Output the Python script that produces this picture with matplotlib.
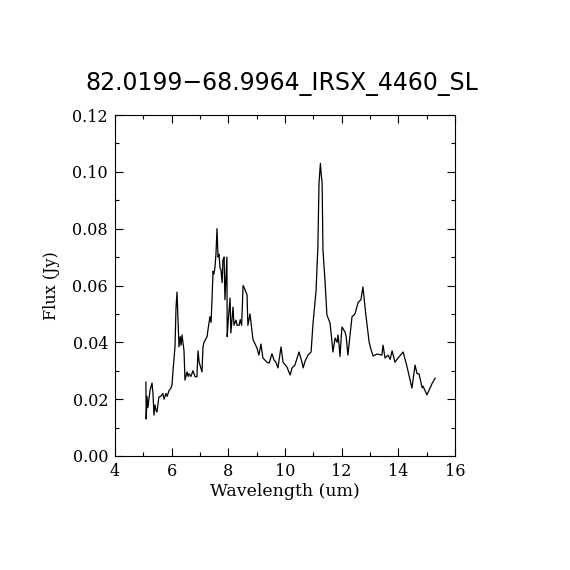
import matplotlib
matplotlib.use("Agg")
import matplotlib.pyplot as plt
from matplotlib.ticker import MultipleLocator, FormatStrFormatter

title = "82.0199\u221268.9964_IRSX_4460_SL"
xlabel = "Wavelength (um)"
ylabel = "Flux (Jy)"

wavelength = [5.09, 5.10, 5.13, 5.16, 5.235, 5.306, 5.34, 5.377, 5.41, 5.45, 5.48,
              5.55, 5.62, 5.69, 5.73, 5.80, 5.84, 5.906, 5.98, 6.012, 6.047, 6.118,
              6.153, 6.188, 6.224, 6.259, 6.30, 6.33, 6.365, 6.436, 6.47, 6.54, 6.58,
              6.61, 6.68, 6.75, 6.82, 6.89, 6.93, 6.97, 7.07, 7.106, 7.14, 7.25, 7.28,
              7.35, 7.39, 7.42, 7.46, 7.49, 7.53, 7.565, 7.60, 7.636, 7.67, 7.71, 7.74,
              7.78, 7.81, 7.85, 7.88, 7.95, 7.96, 8.00, 8.06, 8.09, 8.165, 8.20, 8.27,
              8.31, 8.38, 8.42, 8.47, 8.52, 8.57, 8.66, 8.69, 8.765, 8.87, 9.01, 9.08,
              9.15, 9.22, 9.365, 9.44, 9.54, 9.61, 9.68, 9.75, 9.86, 9.93, 10.07, 10.18,
              10.25, 10.35, 10.495, 10.60, 10.64, 10.71, 10.81, 10.92, 10.99, 11.095,
              11.16, 11.20, 11.25, 11.28, 11.31, 11.34, 11.41, 11.48, 11.59, 11.66,
              11.69, 11.77, 11.84, 11.87, 11.91, 11.94, 12.01, 12.12, 12.16, 12.22,
              12.365, 12.47, 12.58, 12.68, 12.75, 12.85, 12.97, 13.04, 13.11, 13.25,
              13.42, 13.46, 13.53, 13.64, 13.71, 13.78, 13.88, 13.99, 14.17, 14.31,
              14.41, 14.48, 14.59, 14.66, 14.73, 14.84, 14.87, 14.92, 15.01, 15.12,
              15.19, 15.30]

flux = [0.026, 0.013, 0.021, 0.017, 0.023, 0.0257, 0.022, 0.0144, 0.018, 0.016, 0.0155,
        0.0208, 0.021, 0.022, 0.020, 0.022, 0.021, 0.023, 0.024, 0.025, 0.030, 0.0384,
        0.052, 0.0577, 0.048, 0.0384, 0.042, 0.039, 0.0426, 0.037, 0.0267, 0.0296, 0.028,
        0.029, 0.028, 0.030, 0.028, 0.0278, 0.037, 0.033, 0.0296, 0.0384, 0.040, 0.042, 0.0443,
        0.049, 0.047, 0.054, 0.065, 0.064, 0.0665, 0.0714, 0.080, 0.070, 0.071, 0.066, 0.0655,
        0.061, 0.069, 0.070, 0.055, 0.070, 0.042, 0.048, 0.0556, 0.0433, 0.0524, 0.046, 0.0478,
        0.046, 0.046, 0.048, 0.046, 0.060, 0.059, 0.0567, 0.046, 0.050, 0.041, 0.038, 0.0355,
        0.0394, 0.0345, 0.033, 0.0327, 0.036, 0.0338, 0.033, 0.031, 0.0384, 0.033, 0.0313, 0.0285,
        0.031, 0.032, 0.0366, 0.033, 0.031, 0.0334, 0.0355, 0.0366, 0.0468, 0.058,
        0.0735, 0.096, 0.103, 0.099, 0.096, 0.0725, 0.062, 0.0496, 0.0468, 0.040,
        0.0366, 0.0415, 0.040, 0.0426, 0.039, 0.035, 0.0454, 0.0436, 0.042, 0.0355,
        0.049, 0.050, 0.054, 0.055, 0.0595, 0.050, 0.040, 0.0373, 0.0352, 0.0359,
        0.0355, 0.039, 0.0345, 0.0355, 0.034, 0.037, 0.033, 0.0345, 0.0366, 0.0313,
        0.027, 0.0239, 0.032, 0.029, 0.0289, 0.024, 0.0246, 0.0235, 0.0215, 0.0240,
        0.0255, 0.0274]

xlim = (4, 16)
ylim = (0.0, 0.12)

fig = plt.figure(figsize=(5.7, 5.7), dpi=100)
ax = fig.add_axes([115/570, 1 - 456/570, 340/570, 341/570])
ax.plot(wavelength, flux, color="black", linewidth=0.9)
ax.set_xlim(*xlim)
ax.set_ylim(*ylim)

ax.xaxis.set_major_locator(MultipleLocator(2))
ax.xaxis.set_minor_locator(MultipleLocator(1))
ax.yaxis.set_major_locator(MultipleLocator(0.02))
ax.yaxis.set_minor_locator(MultipleLocator(0.01))
ax.yaxis.set_major_formatter(FormatStrFormatter("%.2f"))

ax.tick_params(which="both", direction="in", top=True, right=True, width=0.8)
ax.tick_params(which="major", length=6, labelsize=11.5, pad=5)
ax.tick_params(which="minor", length=3)
for lbl in ax.get_xticklabels() + ax.get_yticklabels():
    lbl.set_family("DejaVu Serif")
for s in ax.spines.values():
    s.set_linewidth(0.8)

ax.set_xlabel(xlabel, family="DejaVu Serif", fontsize=12.5, labelpad=2)
ax.set_ylabel(ylabel, family="DejaVu Serif", fontsize=11.5, labelpad=9)
fig.text(0.495, 1 - 84/570, title, ha="center", va="center",
         family="DejaVu Sans", fontsize=17, color="black")

fig.savefig("out.png", dpi=100, facecolor="white")
